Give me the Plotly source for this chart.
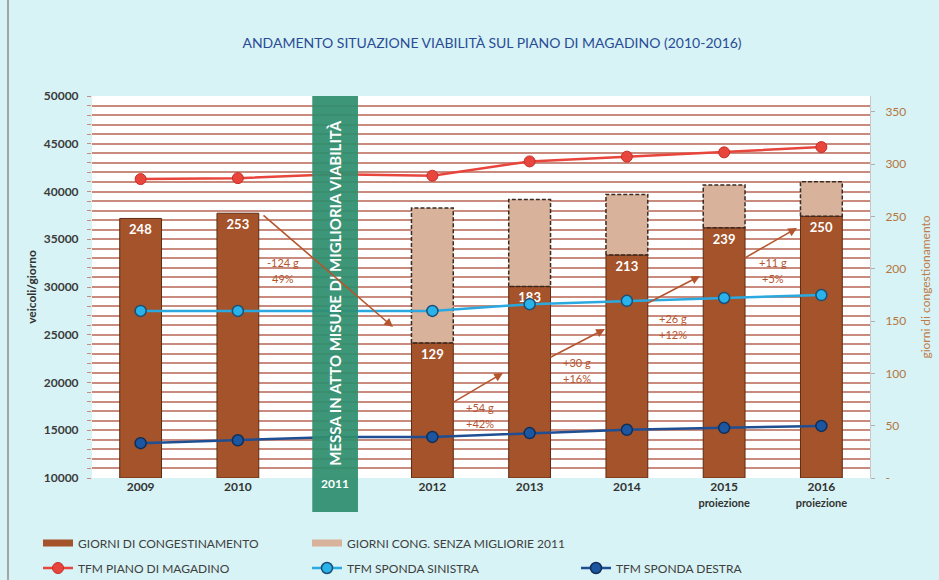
import plotly.graph_objects as go

# ---------------- data ----------------
years = ["2009", "2010", "2011", "2012", "2013", "2014", "2015", "2016"]
tick_labels = [
    "<b>2009</b>", "<b>2010</b>", "",
    "<b>2012</b>", "<b>2013</b>", "<b>2014</b>",
    "<b>2015</b><br><span style='font-size:11px'><b>proiezione</b></span>",
    "<b>2016</b><br><span style='font-size:11px'><b>proiezione</b></span>",
]
band_label = "2011"
giorni = [248, 253, None, 129, 183, 213, 239, 250]
giorni_senza = [None, None, None, 258, 266, 271, 280, 283]
tfm_piano = [41300, 41400, 41800, 41650, 43150, 43650, 44100, 44650]
tfm_sinistra = [27500, 27500, 27450, 27500, 28200, 28550, 28850, 29150]
tfm_destra = [13650, 13950, 14300, 14300, 14700, 15050, 15250, 15450]
delta_text = [("-124 g", "49%"), ("+54 g", "+42%"), ("+30 g", "+16%"),
              ("+26 g", "+12%"), ("+11 g", "+5%")]

# ---------------- styling helpers ----------------
FONT = "Lato"
W, H = 939, 580
L, T, PW, PH = 92, 96, 778, 382
BAR_W = 0.43
BROWN = "#a4532a"
TAN = "#d9b29b"
ARROW = "#b5552e"
GRID = "#c98b7d"
BAND_IDX = years.index(band_label)

xi = list(range(len(years)))


def xd(px):
    return (px - L) / PW * len(years) - 0.5


def yd(py):
    return 10000 + (T + PH - py) / PH * 40000


fig = go.Figure()

# light bars (without 2011 improvements) behind
fig.add_trace(go.Bar(
    x=xi, y=giorni_senza, width=BAR_W, marker=dict(color=TAN, line=dict(width=0)),
    yaxis="y", showlegend=False, hoverinfo="skip"))
# solid bars
fig.add_trace(go.Bar(
    x=xi, y=giorni, width=BAR_W,
    marker=dict(color=BROWN, line=dict(color="#5e2c14", width=1)),
    text=[str(v) if v is not None else "" for v in giorni],
    textposition="inside", insidetextanchor="end",
    textfont=dict(family=FONT, size=13, color="white", weight="bold"),
    yaxis="y", showlegend=False, hoverinfo="skip"))

# dashed outline of the "senza migliorie" part
ox, oy = [], []
for i, (s, g) in enumerate(zip(giorni_senza, giorni)):
    if s is None:
        continue
    a, b = i - BAR_W / 2, i + BAR_W / 2
    ox += [a, a, b, b, a, None]
    oy += [g, s, s, g, g, None]
fig.add_trace(go.Scatter(x=ox, y=oy, mode="lines", yaxis="y",
                         line=dict(color="#3a2a22", width=1.5, dash="4px,2px"),
                         showlegend=False, hoverinfo="skip"))

# lines (on veicoli axis)
fig.add_trace(go.Scatter(
    x=xi, y=tfm_piano, yaxis="y2", mode="lines+markers", name="TFM PIANO DI MAGADINO",
    line=dict(color="#e8453c", width=2.5),
    marker=dict(size=11, color="#e8453c", line=dict(color="#c53028", width=1)),
    legend="legend2"))
fig.add_trace(go.Scatter(
    x=xi, y=tfm_sinistra, yaxis="y2", mode="lines+markers", name="TFM SPONDA SINISTRA",
    line=dict(color="#2aa9e0", width=2.5),
    marker=dict(size=11, color="#2ab2ea", line=dict(color="#1b4f75", width=1.5)),
    legend="legend2"))
fig.add_trace(go.Scatter(
    x=xi, y=tfm_destra, yaxis="y2", mode="lines+markers", name="TFM SPONDA DESTRA",
    line=dict(color="#1f4f92", width=2.5),
    marker=dict(size=11, color="#1d56a0", line=dict(color="#0f2f5a", width=1.5)),
    legend="legend2", legendwidth=140))

# legend entries for bars
fig.add_trace(go.Scatter(x=[None], y=[None], mode="lines", name="GIORNI DI CONGESTINAMENTO",
                         line=dict(color=BROWN, width=7), legend="legend"))
fig.add_trace(go.Scatter(x=[None], y=[None], mode="lines", name="GIORNI CONG. SENZA MIGLIORIE 2011",
                         line=dict(color=TAN, width=7), legend="legend", legendwidth=220))

# band for 2011
band_bottom = -(512 - (T + PH)) / PH
fig.add_shape(type="rect", xref="x", yref="paper", x0=BAND_IDX - 0.235, x1=BAND_IDX + 0.235,
              y0=band_bottom, y1=1, fillcolor="#2f8e6f", opacity=0.93,
              line=dict(width=0), layer="above")

annotations = [
    dict(x=BAND_IDX, y=0.485, xref="x", yref="paper",
         text="MESSA IN ATTO MISURE DI MIGLIORIA VIABILITÀ",
         textangle=-90, showarrow=False,
         font=dict(family=FONT, size=15, color="white", weight="bold")),
    dict(x=BAND_IDX, y=-(493 - (T + PH)) / PH, xref="x", yref="paper",
         text="<b>" + band_label + "</b>", showarrow=False,
         font=dict(family=FONT, size=12, color="white")),
]

# arrows (tail px, head px) and text positions
arrow_px = [((262, 214), (393, 327)), ((452, 403), (503, 373)), ((549, 358), (605, 329)),
            ((646, 304), (700, 276)), ((743, 259), (797, 228))]
text_px = [(283, 262), (480, 407), (577, 362), (673, 318), (773, 262)]
for (tail, head), (tx, ty), (t1, t2) in zip(arrow_px, text_px, delta_text):
    annotations.append(dict(
        x=xd(head[0]), y=yd(head[1]), ax=xd(tail[0]), ay=yd(tail[1]),
        xref="x", yref="y2", axref="x", ayref="y2", text="", showarrow=True,
        arrowhead=2, arrowsize=1.1, arrowwidth=1.6, arrowcolor=ARROW))
    annotations.append(dict(
        x=xd(tx), y=yd(ty), xref="x", yref="y2", text=t1, showarrow=False,
        font=dict(family=FONT, size=11, color=ARROW)))
    annotations.append(dict(
        x=xd(tx), y=yd(ty + 16), xref="x", yref="y2", text=t2, showarrow=False,
        font=dict(family=FONT, size=11, color=ARROW)))

# left frame line
fig.add_shape(type="line", xref="paper", yref="paper",
              x0=(8 - L) / PW, x1=(8 - L) / PW, y0=-(H - T - PH) / PH, y1=(T + PH) / PH,
              line=dict(color="#8c8c8c", width=1.5))

fig.update_layout(
    width=W, height=H,
    margin=dict(l=L, r=W - L - PW, t=T, b=H - T - PH, autoexpand=False),
    paper_bgcolor="#d7f3f5", plot_bgcolor="white",
    barmode="overlay",
    font=dict(family=FONT, size=12, color="#333333"),
    title=dict(text="ANDAMENTO SITUAZIONE VIABILITÀ SUL PIANO DI MAGADINO (2010-2016)",
               x=0.524, xanchor="center", y=1 - 43 / H, yanchor="middle", yref="container",
               font=dict(family=FONT, size=14, color="#2a4c96")),
    xaxis=dict(range=[-0.5, 7.5], tickvals=xi, ticktext=tick_labels, showgrid=False,
               zeroline=False, ticks="", tickfont=dict(family=FONT, size=12, color="#333333")),
    yaxis=dict(side="right", range=[0, 365], tickvals=[0, 50, 100, 150, 200, 250, 300, 350],
               ticktext=["-", "50", "100", "150", "200", "250", "300", "350"],
               showgrid=False, zeroline=False, showline=True, linecolor="#c8c8c8",
               ticks="outside", ticklen=4, tickcolor="#b0b0b0", ticklabelstandoff=8,
               tickfont=dict(family=FONT, size=12, color="#b5763f"),
               title=dict(text="giorni di congestionamento", standoff=16,
                          font=dict(family=FONT, size=12, color="#c07a45"))),
    yaxis2=dict(side="left", overlaying="y", range=[10000, 50000], dtick=5000, tickformat="d",
                showgrid=True, gridcolor=GRID, gridwidth=1.5, zeroline=False,
                ticks="outside", ticklen=4, tickcolor=GRID, ticklabelstandoff=6,
                minor=dict(dtick=1000, showgrid=True, gridcolor=GRID, gridwidth=1.5,
                           ticks="outside", ticklen=4, tickcolor=GRID),
                tickfont=dict(family=FONT, size=12, color="#3b3b3b", weight="bold"),
                title=dict(text="veicoli/giorno", standoff=4,
                           font=dict(family=FONT, size=12, color="#333333", weight="bold"))),
    legend=dict(orientation="h", xref="container", yref="container",
                x=38 / W, y=(H - 543) / H, xanchor="left", yanchor="middle",
                entrywidth=224, bgcolor="rgba(0,0,0,0)",
                font=dict(family=FONT, size=12, color="#404040")),
    legend2=dict(orientation="h", xref="container", yref="container",
                 x=38 / W, y=(H - 568) / H, xanchor="left", yanchor="middle",
                 entrywidth=224, bgcolor="rgba(0,0,0,0)",
                 font=dict(family=FONT, size=12, color="#404040")),
    annotations=annotations,
    showlegend=True,
)

fig.write_html("out.html", config={"displayModeBar": False},
               post_script="document.body.style.margin='0';")
